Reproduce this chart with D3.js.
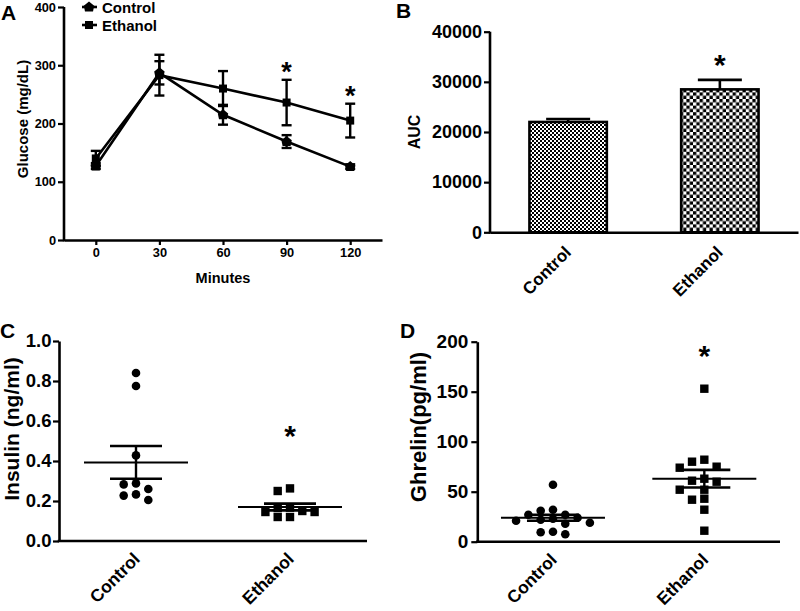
<!DOCTYPE html>
<html><head><meta charset="utf-8">
<script src="https://cdn.jsdelivr.net/npm/d3@7"></script>
<style>
body{margin:0;background:#fff}
text{font-family:"Liberation Sans",Arial,sans-serif;font-weight:bold;fill:#000}
</style>
</head><body>
<svg id="c" width="800" height="611"></svg>
<script>
// ---------- Panel A data ----------
const minutes = [0, 30, 60, 90, 120];
const controlGlucose = [127, 287, 215, 169, 126];
const controlGlucoseSEM = [5, 20, 17, 11, 4];
const ethanolGlucose = [140, 283, 260, 236, 205];
const ethanolGlucoseSEM = [13, 35, 30, 39, 29];
const glucoseTicks = [0, 100, 200, 300, 400];
const glucoseSig = [90, 120];
// ---------- Panel B data ----------
const groups = ["Control", "Ethanol"];
const aucMean = [22000, 28500];
const aucSEM = [600, 1900];
const aucTicks = [0, 10000, 20000, 30000, 40000];
const aucSig = ["Ethanol"];
// ---------- Panel C data ----------
const insulinControl = [0.84, 0.775, 0.428, 0.288, 0.283, 0.26, 0.233, 0.227, 0.205];
const insulinEthanol = [0.263, 0.25, 0.167, 0.165, 0.15, 0.145, 0.145, 0.12, 0.12];
const insulinMean = [0.393, 0.17];
const insulinSEM = [0.082, 0.017];
const insulinTicks = [0, 0.2, 0.4, 0.6, 0.8, 1.0];
// ---------- Panel D data ----------
const ghrelinControl = [57, 32, 31, 27, 27, 24, 23, 22, 21, 19, 18, 10, 9.5, 7.5];
const ghrelinEthanol = [153, 82, 80, 75, 74, 63, 61, 60, 52, 52, 43, 42, 32, 11];
const ghrelinMean = [24, 63];
const ghrelinSEM = [3, 8.8];
const ghrelinTicks = [0, 50, 100, 150, 200];

const svg = d3.select("#c");
const defs = svg.append("defs");
function checker(id, cell) {
  const p = defs.append("pattern").attr("id", id).attr("patternUnits", "userSpaceOnUse")
    .attr("width", cell * 2).attr("height", cell * 2);
  p.append("rect").attr("width", cell * 2).attr("height", cell * 2).attr("fill", "#fff");
  p.append("rect").attr("width", cell).attr("height", cell).attr("fill", "#000");
  p.append("rect").attr("x", cell).attr("y", cell).attr("width", cell).attr("height", cell).attr("fill", "#000");
}
checker("chk0", 2);
checker("chk1", 3.3);

function styleAxis(g, fs) {
  g.selectAll("path.domain").attr("stroke", "#000").attr("stroke-width", 2.6);
  g.selectAll(".tick line").attr("stroke", "#000").attr("stroke-width", 2.2);
  g.selectAll(".tick text").style("font-size", fs + "px")
    .style("font-family", '"Liberation Sans", Arial, sans-serif').style("font-weight", "bold").attr("fill", "#000");
}
function label(x, y, txt, fs, rot, anchor) {
  const t = svg.append("text").attr("transform", `translate(${x},${y})` + (rot ? ` rotate(${rot})` : ""))
    .attr("text-anchor", anchor || "middle").style("font-size", fs + "px").text(txt);
  return t;
}
function star(x, cy, fs) {
  label(x, cy + 0.57 * fs, "*", fs);
}
function swarm(values, yScale, cx, step, minDy) {
  const placed = [];
  return values.map(v => {
    const y = yScale(v);
    for (let k = 0; k < 60; k++) {
      const off = k === 0 ? 0 : (k % 2 ? -1 : 1) * Math.ceil(k / 2) * step;
      if (!placed.some(p => Math.abs(p.off - off) < step * 0.9 && Math.abs(p.y - y) < minDy)) {
        placed.push({ off, y });
        return { x: cx + off, y };
      }
    }
    return { x: cx, y };
  });
}

// ================= Panel A =================
{
  const xA = d3.scaleLinear().domain([-15, 135]).range([64, 382]);
  const yA = d3.scaleLinear().domain([0, 400]).range([240, 7]);
  const gA = svg.append("g");
  const ax = gA.append("g").attr("transform", "translate(0,240)")
    .call(d3.axisBottom(xA).tickValues(minutes).tickSize(5).tickSizeOuter(0).tickPadding(3));
  styleAxis(ax, 12.8);
  const ay = gA.append("g").attr("transform", `translate(${xA.range()[0]},0)`)
    .call(d3.axisLeft(yA).tickValues(glucoseTicks).tickSize(6).tickSizeOuter(0).tickPadding(2));
  styleAxis(ay, 12.8);
  ay.select("path.domain").attr("d", `M0,${yA(0) + 1.3}V${yA(400)}`);

  const series = [
    { name: "Control", v: controlGlucose, e: controlGlucoseSEM, shape: "pent" },
    { name: "Ethanol", v: ethanolGlucose, e: ethanolGlucoseSEM, shape: "sq" }
  ];
  const line = d3.line().x(d => xA(d.m)).y(d => yA(d.v));
  const pent = "M0,-5.5L5.2,-1.2L4,4.5L-4,4.5L-5.2,-1.2Z";
  function marker(g, shape, x, y) {
    if (shape === "sq") g.append("rect").attr("x", x - 4).attr("y", y - 4).attr("width", 8).attr("height", 8).attr("fill", "#000");
    else g.append("path").attr("d", pent).attr("transform", `translate(${x},${y})`).attr("fill", "#000");
  }
  series.forEach(s => {
    const pts = minutes.map((m, i) => ({ m, v: s.v[i], e: s.e[i] }));
    gA.append("path").datum(pts).attr("d", line).attr("fill", "none").attr("stroke", "#000").attr("stroke-width", 2.6);
    pts.forEach(p => {
      const x = xA(p.m);
      gA.append("line").attr("x1", x).attr("x2", x).attr("y1", yA(p.v - p.e)).attr("y2", yA(p.v + p.e))
        .attr("stroke", "#000").attr("stroke-width", 2.4);
      [p.v - p.e, p.v + p.e].forEach(c => gA.append("line").attr("x1", x - 5).attr("x2", x + 5)
        .attr("y1", yA(c)).attr("y2", yA(c)).attr("stroke", "#000").attr("stroke-width", 2.4));
      marker(gA, s.shape, x, yA(p.v));
    });
  });
  glucoseSig.forEach(m => {
    const i = minutes.indexOf(m);
    star(xA(m), yA(ethanolGlucose[i] + ethanolGlucoseSEM[i]) - 14, 27);
  });
  series.forEach((s, i) => {
    const y = 7 + i * 18;
    gA.append("line").attr("x1", 82).attr("x2", 97).attr("y1", y).attr("y2", y).attr("stroke", "#000").attr("stroke-width", 2.6);
    marker(gA, s.shape, 89, y);
    gA.append("text").attr("x", 102).attr("y", y + 5.5).style("font-size", "15px").text(s.name);
  });
  label((xA.range()[0] + xA.range()[1]) / 2, 283, "Minutes", 14.5);
  label(28, 119, "Glucose (mg/dL)", 15, -90);
  svg.append("text").attr("x", 1).attr("y", 20).style("font-size", "21px").text("A");
}

// ================= Panel B =================
{
  const xB = d3.scaleBand().domain(groups).range([490, 798]).paddingInner(0.49).paddingOuter(0.26);
  const yB = d3.scaleLinear().domain([0, 40000]).range([232.3, 31.7]);
  const gB = svg.append("g");
  groups.forEach((g, i) => {
    const cx = xB(g) + xB.bandwidth() / 2;
    const top = yB(aucMean[i] + aucSEM[i]);
    gB.append("line").attr("x1", cx).attr("x2", cx).attr("y1", yB(aucMean[i])).attr("y2", top).attr("stroke", "#000").attr("stroke-width", 2.6);
    gB.append("line").attr("x1", cx - 22).attr("x2", cx + 22).attr("y1", top).attr("y2", top).attr("stroke", "#000").attr("stroke-width", 2.6);
    gB.append("rect").attr("x", xB(g)).attr("width", xB.bandwidth()).attr("y", yB(aucMean[i]))
      .attr("height", yB(0) - yB(aucMean[i])).attr("fill", `url(#chk${i})`).attr("stroke", "#000").attr("stroke-width", 2.6);
  });
  const ax = gB.append("g").attr("transform", `translate(0,${yB(0)})`)
    .call(d3.axisBottom(xB).tickSize(0).tickSizeOuter(0).tickFormat(""));
  styleAxis(ax, 17);
  const ay = gB.append("g").attr("transform", "translate(490,0)")
    .call(d3.axisLeft(yB).tickValues(aucTicks).tickSize(6).tickSizeOuter(0).tickPadding(2).tickFormat(d3.format("d")));
  styleAxis(ay, 18);
  ay.select("path.domain").attr("d", `M0,${yB(0) + 1.3}V${yB(40000)}`);
  groups.forEach(g => {
    const cx = xB(g) + xB.bandwidth() / 2;
    label(cx + 4, yB(0) + 21, g, 17, -45, "end");
  });
  aucSig.forEach(g => {
    const i = groups.indexOf(g);
    star(xB(g) + xB.bandwidth() / 2, yB(aucMean[i] + aucSEM[i]) - 22, 30);
  });
  label(420, 132, "AUC", 16, -90);
  svg.append("text").attr("x", 396).attr("y", 18).style("font-size", "21px").text("B");
}

// ============ scatter panels ============
function scatterPanel(opt) {
  const x = d3.scalePoint().domain(groups).range(opt.xr).padding(0.5);
  const y = d3.scaleLinear().domain(opt.domain).range(opt.yr);
  const g = svg.append("g");
  const ax = g.append("g").attr("transform", `translate(0,${opt.yr[0]})`)
    .call(d3.axisBottom(x).tickSize(0).tickSizeOuter(0).tickFormat(""));
  styleAxis(ax, 18);
  ax.select("path.domain").attr("d", `M${opt.xr[0] - 1.3},0H${opt.xr[1]}`);
  const ay = g.append("g").attr("transform", `translate(${opt.xr[0]},0)`)
    .call(d3.axisLeft(y).tickValues(opt.ticks).tickSize(6).tickSizeOuter(0).tickPadding(opt.pad).tickFormat(opt.fmt));
  styleAxis(ay, opt.tickFs);
  opt.data.forEach((vals, i) => {
    const cx = x(groups[i]);
    const pts = swarm(vals, y, cx, opt.step, opt.minDy);
    pts.forEach(p => {
      if (i === 0) g.append("circle").attr("cx", p.x).attr("cy", p.y).attr("r", 4.3).attr("fill", "#000");
      else g.append("rect").attr("x", p.x - 4.2).attr("y", p.y - 4.2).attr("width", 8.4).attr("height", 8.4).attr("fill", "#000");
    });
    const m = opt.mean[i], e = opt.sem[i];
    g.append("line").attr("x1", cx - 52).attr("x2", cx + 52).attr("y1", y(m)).attr("y2", y(m)).attr("stroke", "#000").attr("stroke-width", 2);
    g.append("line").attr("x1", cx).attr("x2", cx).attr("y1", y(m - e)).attr("y2", y(m + e)).attr("stroke", "#000").attr("stroke-width", 2.4);
    [m - e, m + e].forEach(c => g.append("line").attr("x1", cx - 26).attr("x2", cx + 26).attr("y1", y(c)).attr("y2", y(c))
      .attr("stroke", "#000").attr("stroke-width", 2.6));
    label(cx + 5, opt.yr[0] + 19, groups[i], 17.5, -45, "end");
  });
  star(x("Ethanol"), opt.starY, 30);
  label(opt.labX, opt.labY, opt.title, opt.labFs, -90);
  svg.append("text").attr("x", opt.letterX).attr("y", 338).style("font-size", "21px").text(opt.letter);
}

scatterPanel({
  xr: [59, 367], yr: [541, 341], domain: [0, 1], ticks: insulinTicks, fmt: d3.format(".1f"), pad: 1.5, tickFs: 18.5,
  data: [insulinControl, insulinEthanol], mean: insulinMean, sem: insulinSEM, step: 12.3, minDy: 9,
  starY: 429, title: "Insulin (ng/ml)", labX: 18.5, labY: 429, labFs: 21, letter: "C", letterX: 0
});
scatterPanel({
  xr: [477.3, 780], yr: [541.7, 341.7], domain: [0, 200], ticks: ghrelinTicks, fmt: d3.format("d"), pad: 3, tickFs: 19,
  data: [ghrelinControl, ghrelinEthanol], mean: ghrelinMean, sem: ghrelinSEM, step: 12.3, minDy: 9,
  starY: 349, title: "Ghrelin(pg/ml)", labX: 426, labY: 427, labFs: 22, letter: "D", letterX: 400
});
</script>
</body></html>
